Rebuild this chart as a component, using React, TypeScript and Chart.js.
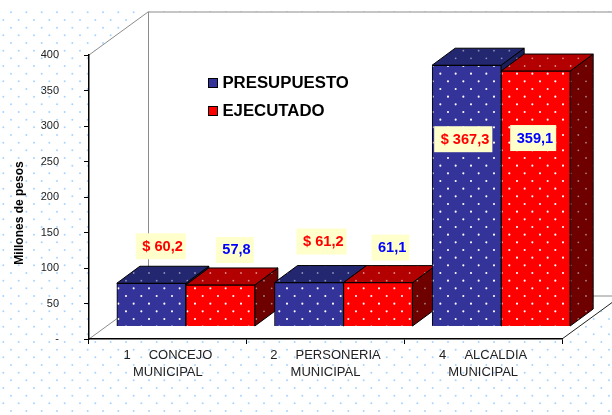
import React, { useEffect, useRef } from "react";
import { Chart, registerables } from "chart.js";

Chart.register(...registerables);

const categories = [
  ["1     CONCEJO", "MUNICIPAL"],
  ["2     PERSONERIA", "MUNICIPAL"],
  ["4     ALCALDIA", "MUNICIPAL"],
];
const presupuesto = [60.2, 61.2, 367.3];
const ejecutado = [57.8, 61.1, 359.1];
const seriesNames = ["PRESUPUESTO", "EJECUTADO"];
const yTitle = "Millones de pesos";

const FONT = "'Liberation Sans', Arial, sans-serif";
const DEPTH_X = 59;
const DEPTH_Y = 43;
const BAR_DX = 23;
const BAR_DY = 17;
const SCALE_PER_PX = 400 / 284;
const BAR_FLOOR = 13 * SCALE_PER_PX;
const SHIFT = 18 / (473 / 3);

// label placement relative to each bar (left-of-box from bar centre, top-of-box from bar top)
const labelPlacement = [
  [[-15.5, -50], [-12.5, -54], [-32.5, 61]],
  [[-4.5, -48], [-6.5, -48], [-25.5, 54]],
];

function dotPattern(bg: string | null, dot: string, r: number) {
  const size = 46;
  const c = document.createElement("canvas");
  c.width = size;
  c.height = size;
  const g = c.getContext("2d")!;
  if (bg) {
    g.fillStyle = bg;
    g.fillRect(0, 0, size, size);
  }
  g.fillStyle = dot;
  for (let row = 0; row < 6; row++) {
    const y = 12.33 + row * (46 / 6);
    const x0 = row % 2 === 0 ? 11 : 3.33;
    for (let i = 0; i < 3; i++) {
      const x = x0 + (i * 46) / 3;
      for (const [ox, oy] of [[0, 0], [-46, 0], [0, -46], [-46, -46]]) {
        g.beginPath();
        g.arc(x + ox, y + oy, r, 0, Math.PI * 2);
        g.fill();
      }
    }
  }
  return g.createPattern(c, "repeat")!;
}

function face(ctx: CanvasRenderingContext2D, pts: number[][], fill: CanvasPattern) {
  ctx.beginPath();
  pts.forEach(([x, y], i) => (i ? ctx.lineTo(x, y) : ctx.moveTo(x, y)));
  ctx.closePath();
  ctx.fillStyle = fill;
  ctx.fill();
  ctx.lineWidth = 1;
  ctx.strokeStyle = "#000";
  ctx.stroke();
}

export default function App() {
  const ref = useRef<HTMLCanvasElement>(null);

  useEffect(() => {
    const pageBg = dotPattern("#ffffff", "#a9d4ff", 1);
    const blueFront = dotPattern("#333399", "#ffffff", 1.05);
    const redFront = dotPattern("#ff0000", "#ffffff", 1.05);
    const tops = [dotPattern("#23276f", "#8f90b8", 0.9), dotPattern("#b30000", "#dd8888", 0.9)];
    const sides = [dotPattern("#1b1e58", "#7f80a8", 0.9), dotPattern("#6e0000", "#a88080", 0.9)];
    const swatches = ["#333399", "#ff0000"];

    const scenePlugin = {
      id: "scene",
      afterLayout(chart: any) {
        const l = chart.legend;
        if (!l) return;
        l.left = 197.1;
        l.top = 64.4;
        l.right = l.left + 190;
        l.bottom = l.top + 80;
      },
      beforeDraw(chart: any) {
        const { ctx, width, height, chartArea: a } = chart;
        ctx.save();
        ctx.fillStyle = "#ffffff";
        ctx.fillRect(0, 0, width, height);
        ctx.fillStyle = pageBg;
        ctx.fillRect(0, 9, width, height - 9);
        // walls and floor
        ctx.beginPath();
        ctx.moveTo(a.left, a.top);
        ctx.lineTo(a.left + DEPTH_X, a.top - DEPTH_Y);
        ctx.lineTo(a.right + DEPTH_X, a.top - DEPTH_Y);
        ctx.lineTo(a.right + DEPTH_X, a.bottom - DEPTH_Y);
        ctx.lineTo(a.right, a.bottom);
        ctx.lineTo(a.left, a.bottom);
        ctx.closePath();
        ctx.fillStyle = "#ffffff";
        ctx.fill();
        ctx.strokeStyle = "#8c8c8c";
        ctx.lineWidth = 1;
        ctx.beginPath();
        ctx.moveTo(a.left, a.top);
        ctx.lineTo(a.left + DEPTH_X, a.top - DEPTH_Y);
        ctx.lineTo(a.right + DEPTH_X, a.top - DEPTH_Y);
        ctx.moveTo(a.left + DEPTH_X + 0.5, a.top - DEPTH_Y);
        ctx.lineTo(a.left + DEPTH_X + 0.5, a.bottom - DEPTH_Y);
        ctx.lineTo(a.right + DEPTH_X, a.bottom - DEPTH_Y);
        ctx.moveTo(a.left + DEPTH_X, a.bottom - DEPTH_Y);
        ctx.lineTo(a.left, a.bottom);
        ctx.stroke();
        ctx.strokeStyle = "#222";
        ctx.beginPath();
        ctx.moveTo(a.right, a.bottom);
        ctx.lineTo(a.right + DEPTH_X, a.bottom - DEPTH_Y);
        ctx.stroke();
        ctx.restore();
      },
      beforeDatasetsDraw(chart: any) {
        const { ctx } = chart;
        ctx.save();
        ctx.lineJoin = "round";
        for (let i = 0; i < categories.length; i++) {
          [0, 1].forEach((d) => {
            const b = chart.getDatasetMeta(d).data[i];
            const l = b.x - b.width / 2;
            const r = b.x + b.width / 2;
            const t = b.y;
            const f = b.base;
            face(ctx, [[r, t], [r + BAR_DX, t - BAR_DY], [r + BAR_DX, f - BAR_DY], [r, f]], sides[d]);
            face(ctx, [[l, t], [l + BAR_DX, t - BAR_DY], [r + BAR_DX, t - BAR_DY], [r, t]], tops[d]);
          });
        }
        ctx.restore();
      },
      afterDatasetsDraw(chart: any) {
        const { ctx } = chart;
        ctx.save();
        ctx.font = `bold 14.6px ${FONT}`;
        ctx.textBaseline = "middle";
        ctx.textAlign = "left";
        [presupuesto, ejecutado].forEach((vals, d) => {
          vals.forEach((v, i) => {
            const b = chart.getDatasetMeta(d).data[i];
            const text = (d === 0 ? "$ " : "") + v.toFixed(1).replace(".", ",");
            const [dx, dy] = labelPlacement[d][i];
            const w = ctx.measureText(text).width + 9.5;
            const left = b.x + dx;
            const top = b.y + dy;
            ctx.fillStyle = "#ffffcc";
            ctx.fillRect(left, top, w, 26);
            ctx.fillStyle = d === 0 ? "#ff0000" : "#0000ff";
            ctx.fillText(text, left + 6.5, top + 13.5);
          });
        });
        // y axis title
        ctx.save();
        ctx.translate(19.5, 213);
        ctx.rotate(-Math.PI / 2);
        ctx.textAlign = "center";
        ctx.fillStyle = "#000";
        ctx.font = `bold 12px ${FONT}`;
        ctx.fillText(yTitle, 0, 0);
        ctx.restore();
        ctx.restore();
      },
      afterDraw(chart: any) {
        const l = chart.legend;
        if (!l) return;
        const { ctx } = chart;
        const size = l.options.labels.font.size;
        const pad = l.options.labels.padding;
        ctx.save();
        swatches.forEach((col, i) => {
          const y = l.top + pad + i * (size + pad) + size / 2 - 1;
          const top = Math.round(y - 4.5) + 0.5;
          ctx.fillStyle = col;
          ctx.fillRect(l.left + pad + 0.5, top, 9, 9);
          ctx.strokeStyle = "#000";
          ctx.lineWidth = 1;
          ctx.strokeRect(l.left + pad + 0.5, top, 9, 9);
        });
        ctx.restore();
      },
    };

    const chart = new Chart(ref.current!, {
      type: "bar",
      plugins: [scenePlugin],
      data: {
        labels: categories as any,
        datasets: [
          {
            label: seriesNames[0],
            data: presupuesto.map((y, i) => ({ x: i + 0.5 + SHIFT, y })),
            xAxisID: "xBars",
            yAxisID: "yBars",
            backgroundColor: blueFront,
            borderColor: "#000",
            borderWidth: 1,
            barThickness: 69,
            clip: false,
          },
          {
            label: seriesNames[1],
            data: ejecutado.map((y, i) => ({ x: i + 0.5 + SHIFT, y })),
            xAxisID: "xBars",
            yAxisID: "yBars",
            backgroundColor: redFront,
            borderColor: "#000",
            borderWidth: 1,
            barThickness: 69,
            clip: false,
          },
        ] as any,
      },
      options: {
        responsive: false,
        animation: false,
        layout: { padding: { top: 55, right: 50, left: 0, bottom: 0 } },
        scales: {
          x: {
            type: "category",
            labels: categories as any,
            offset: true,
            afterFit: (s: any) => { s.height = 76; },
            grid: { offset: true, drawOnChartArea: false, tickLength: 5, color: "#000", lineWidth: 1 },
            border: { color: "#000", width: 1.5 },
            ticks: {
              color: "#222",
              padding: 3,
              maxRotation: 0,
              autoSkip: false,
              font: { family: FONT, size: 13, lineHeight: 1.3 },
            },
          },
          y: {
            type: "linear",
            min: 0,
            max: 400,
            afterFit: (s: any) => { s.width = 89; },
            grid: { drawOnChartArea: false, tickLength: 5, color: "#000", lineWidth: 1 },
            border: { color: "#000", width: 1.5 },
            ticks: {
              stepSize: 50,
              color: "#222",
              padding: 25,
              font: { family: FONT, size: 11 },
              callback: (v: any) => (v === 0 ? "-" : String(v)),
            },
          },
          xBars: { type: "linear", display: false, offset: false, min: 0, max: 3 },
          yBars: { type: "linear", display: false, min: -BAR_FLOOR, max: 400 - BAR_FLOOR },
        } as any,
        plugins: {
          title: { display: false },
          tooltip: { enabled: false },
          legend: {
            display: true,
            position: "chartArea",
            align: "start",
            labels: {
              color: "#000",
              boxWidth: 6,
              boxHeight: 0,
              padding: 10.9,
              font: { family: FONT, size: 16.8, weight: "bold" },
              generateLabels: () =>
                seriesNames.map((text, i) => ({
                  text,
                  datasetIndex: i,
                  fillStyle: "rgba(0,0,0,0)",
                  strokeStyle: "rgba(0,0,0,0)",
                  lineWidth: 0,
                  fontColor: "#000",
                })),
            },
          },
        },
      } as any,
    });
    return () => chart.destroy();
  }, []);

  return (
    <canvas
      ref={ref}
      width={612}
      height={415}
      style={{ position: "fixed", left: 0, top: 0, display: "block" }}
    />
  );
}
